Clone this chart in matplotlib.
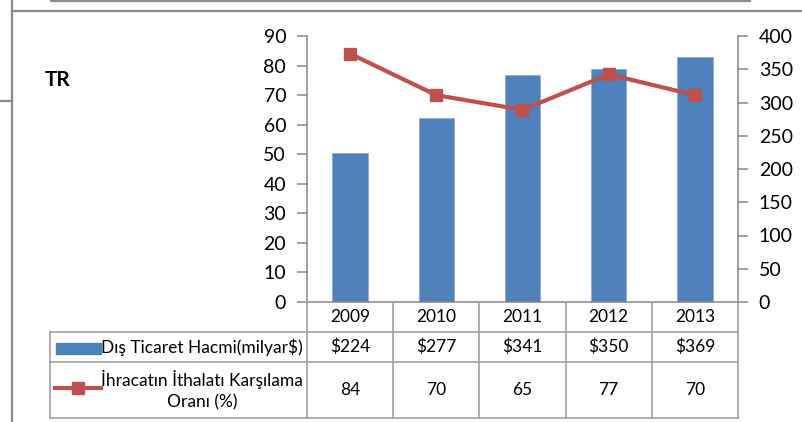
import matplotlib
matplotlib.use('Agg')
import matplotlib.pyplot as plt
from matplotlib.lines import Line2D
from matplotlib.patches import Rectangle
from matplotlib.transforms import blended_transform_factory
import numpy as np

years = ['2009', '2010', '2011', '2012', '2013']
hacim = [224, 277, 341, 350, 369]          # Dış Ticaret Hacmi (milyar $), right axis
hacim_txt = ['$224', '$277', '$341', '$350', '$369']
oran = [84, 70, 65, 77, 70]                # İhracatın İthalatı Karşılama Oranı (%), left axis
left_ticks = list(range(0, 91, 10))
right_ticks = list(range(0, 401, 50))
label_bar = 'Dış Ticaret Hacmi(milyar$)'
label_line = 'İhracatın İthalatı Karşılama\nOranı (%)'

BLUE = '#4F81BD'
RED = '#C0504D'
GRID = '#A0A0A0'
AXC = '#868686'

plt.rcParams['font.family'] = ['Lato', 'DejaVu Sans']

W, H = 803, 422
fig = plt.figure(figsize=(W / 100, H / 100), dpi=100)

def fx(p):
    return p / W

def fy(p):
    return 1 - p / H

pos = [fx(307), fy(302), fx(738) - fx(307), fy(36) - fy(302)]
ax_bar = fig.add_axes(pos)
ax_line = fig.add_axes(pos, sharex=ax_bar)
ax_line.patch.set_visible(False)

x = np.arange(len(years))
ax_bar.bar(x, hacim, width=0.41, color=BLUE, edgecolor='#8AAAD6', linewidth=0.6)
ax_line.plot(x, oran, color=RED, lw=3, marker='s', ms=9, clip_on=False)

ax_bar.set_xlim(-0.5, len(years) - 0.5)
ax_bar.set_ylim(0, 400)
ax_line.set_ylim(0, 90)

ax_bar.yaxis.tick_right()
ax_bar.set_yticks(right_ticks)
ax_line.yaxis.tick_left()
ax_line.set_yticks(left_ticks)
for a in (ax_bar, ax_line):
    a.set_xticks([])
    a.tick_params(axis='y', length=7, width=1.1, color=AXC, pad=8, labelsize=14)
    for s in a.spines.values():
        s.set_visible(False)
ax_bar.spines['right'].set_visible(True)
ax_line.spines['left'].set_visible(True)
ax_bar.spines['bottom'].set_visible(True)
for s in (ax_bar.spines['right'], ax_line.spines['left'], ax_bar.spines['bottom']):
    s.set_color(AXC)
    s.set_linewidth(1.1)

# data table under the plot
tr = blended_transform_factory(ax_bar.transData, fig.transFigure)
rows = [302, 332, 362, 418]
n = len(years)
for i in range(n + 1):
    fig.add_artist(Line2D([i - 0.5, i - 0.5], [fy(rows[0]), fy(rows[-1])],
                          transform=tr, color=GRID, lw=1.2))
for r in rows[1:]:
    fig.add_artist(Line2D([fx(50), fx(738)], [fy(r), fy(r)],
                          transform=fig.transFigure, color=GRID, lw=1.2))
fig.add_artist(Line2D([fx(50), fx(50)], [fy(332), fy(418)],
                      transform=fig.transFigure, color=GRID, lw=1.2))

ts = 12.5
for i in range(n):
    fig.text(i, fy(317), years[i], transform=tr, ha='center', va='center', fontsize=ts)
    fig.text(i, fy(347), hacim_txt[i], transform=tr, ha='center', va='center', fontsize=ts)
    fig.text(i, fy(390), str(oran[i]), transform=tr, ha='center', va='center', fontsize=ts)

fig.add_artist(Rectangle((fx(56), fy(354)), fx(101) - fx(56), fy(343) - fy(354),
                         transform=fig.transFigure, color=BLUE))
fig.text(fx(202), fy(347), label_bar, ha='center', va='center', fontsize=ts)
fig.add_artist(Line2D([fx(55), fx(101)], [fy(388), fy(388)], transform=fig.transFigure,
                      color=RED, lw=3))
fig.add_artist(Line2D([fx(78)], [fy(388)], transform=fig.transFigure,
                      color=RED, marker='s', ms=9, lw=0))
fig.text(fx(202), fy(390), label_line, ha='center', va='center', fontsize=ts,
         linespacing=1.4)

fig.text(fx(45), fy(80), 'TR', ha='left', va='center', fontsize=15, fontweight='bold')

# surrounding document frame lines
frame = dict(transform=fig.transFigure, color='#8C8C8C', lw=1.6)
fig.add_artist(Line2D([fx(12), fx(12)], [fy(0), fy(422)], **frame))
fig.add_artist(Line2D([fx(12), fx(803)], [fy(11), fy(11)], **frame))
fig.add_artist(Line2D([fx(0), fx(12)], [fy(101), fy(101)], **frame))
fig.add_artist(Line2D([fx(51), fx(51), fx(750), fx(750)], [fy(-2), fy(1), fy(1), fy(-2)], **frame))

fig.savefig('out.png', dpi=100)
